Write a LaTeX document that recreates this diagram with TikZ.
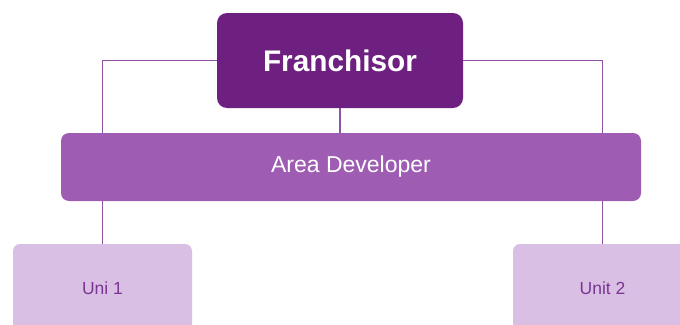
\documentclass[tikz,border=0pt]{standalone}
\usepackage{fontspec}
\setmainfont{Liberation Sans}
\usetikzlibrary{positioning}
\definecolor{frDark}{HTML}{6E2080}
\definecolor{frMid}{HTML}{9E5DB3}
\definecolor{frLight}{HTML}{D9BFE3}
\definecolor{frText}{HTML}{7A3592}
\tikzset{
 chart/.style={line cap=rect,line join=miter},
 boss/.style={rectangle,fill=frDark,text=white,rounded corners=10pt,inner sep=0pt,
   minimum width=246pt,minimum height=95pt,font=\fontsize{29.8}{32}\selectfont\bfseries},
 region/.style={rectangle,fill=frMid,text=white,rounded corners=8pt,inner sep=0pt,
   minimum width=580pt,minimum height=68pt,font=\fontsize{23}{26}\selectfont},
 unitbox/.style={rectangle,fill=frLight,text=frText,rounded corners=7pt,inner sep=0pt,
   minimum width=179pt,minimum height=88pt,font=\fontsize{17.5}{21}\selectfont},
 link/.style={draw=frMid!90!black,line width=1.1pt}
}

\begin{document}
\begin{tikzpicture}[chart,x=1pt,y=-1pt]
 \useasboundingbox (0,0) rectangle (680,324);
 \clip (0,0) rectangle (680,324);
 \node[boss] (fr) at (340,60.5) {Franchisor};
 \node[region] (ad) at (351,167) {Area Developer};
 \node[unitbox] (u1) at (102.5,288) {Uni 1};
 \node[unitbox] (u2) at (602.5,288) {Unit 2};
 % connectors
 \draw[link] (fr.west) -| (ad.north -| u1.north);
 \draw[link] (fr.east) -| (ad.north -| u2.north);
 \draw[link] (fr.south) -- (fr.south |- ad.north);
 \draw[link] (u1.north |- ad.south) -- (u1.north);
 \draw[link] (u2.north |- ad.south) -- (u2.north);
\end{tikzpicture}
\end{document}
